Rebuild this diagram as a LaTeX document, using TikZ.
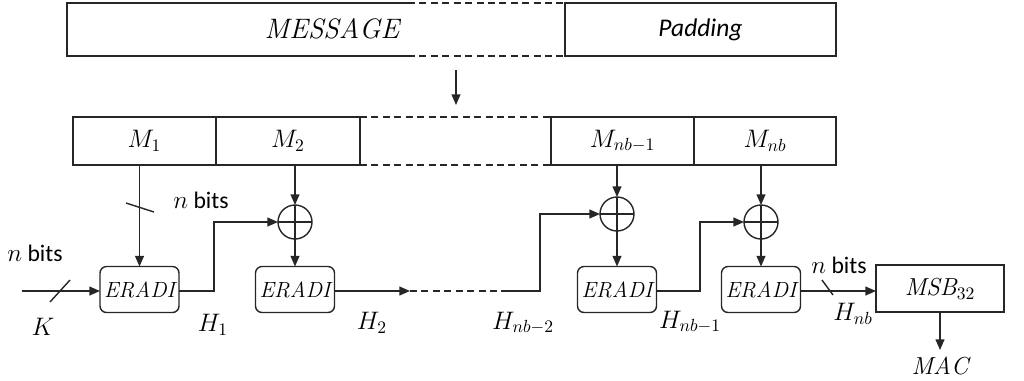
\documentclass[tikz,border=0pt]{standalone}
\usepackage{fontspec}
\newfontfamily\carlitofont{Carlito}
\usetikzlibrary{arrows.meta,calc}
\begin{document}
\begin{tikzpicture}[x=0.02cm,y=-0.02cm,
  every node/.style={inner sep=0pt, outer sep=0pt},
  line/.style={line width=0.8pt, draw=black!85},
  arr/.style={line, -{Triangle[length=6pt,width=5pt]}},
  cell/.style={line, draw, rectangle, minimum height=0.96cm, font=\fontsize{14}{16}\selectfont},
  eradi/.style={line, draw, rounded corners=0.13cm, minimum width=1.58cm, minimum height=0.92cm, font=\fontsize{12.5}{15}\selectfont},
  xor/.style={line, draw, circle, minimum size=0.68cm},
  lbl/.style={font=\fontsize{14}{16}\selectfont},
  bits/.style={font=\carlitofont\fontsize{13.5}{16}\selectfont}]
\useasboundingbox (0,0) rectangle (1024,380);
% top bar
\draw[line] (408,3) -- (67,3) -- (67,56) -- (408,56);
\draw[line, dashed, dash pattern=on 4pt off 2.5pt] (408,3) -- (565,3) (408,56) -- (565,56);
\node[cell, minimum width=5.42cm, minimum height=1.06cm] (pad) at (700.5,29.5) {\carlitofont\itshape\fontsize{14.5}{16}\selectfont Padding};
\node[lbl, font=\fontsize{16}{18}\selectfont] (msg) at (332,29) {$\mathit{MESSAGE}$};
\coordinate (a1) at (456,70);
\coordinate (a2) at (456,105);
\draw[arr] (a1) -- (a2);
% blocks row
\node[cell, minimum width=2.86cm] (m1) at (144.5,141) {$M_1$};
\node[cell, minimum width=2.88cm] (m2) at (288,141) {$M_2$};
\node[cell, minimum width=2.86cm] (m3) at (622.5,141) {$M_{nb-1}$};
\node[cell, minimum width=2.84cm] (m4) at (765,141) {$M_{nb}$};
\draw[line, dashed, dash pattern=on 4pt off 2.5pt] (m2.north east) -- (m3.north west) (m2.south east) -- (m3.south west);
% ERADI boxes
\node[eradi] (e1) at (139.5,289.5) {$\mathit{ERADI}$};
\node[eradi] (e2) at (295,289.5) {$\mathit{ERADI}$};
\node[eradi] (e3) at (617,289.5) {$\mathit{ERADI}$};
\node[eradi] (e4) at (761,289.5) {$\mathit{ERADI}$};
\node[cell, minimum width=2.56cm, minimum height=0.94cm] (msb) at (940,288.5) {$\mathit{MSB}_{32}$};
% XORs
\foreach \n/\x/\y in {x2/295/222, x3/617/214, x4/761/222}{
  \node[xor] (\n) at (\x,\y) {};
  \draw[line] (\n.north) -- (\n.south) (\n.west) -- (\n.east);
}
% M1 -> E1
\draw[arr] (e1.north |- m1.south) -- (e1.north);
\draw[line] (126,203) -- (154,212);
\node[bits] (nb1) at (201,200) {$n$ bits};
% K input
\coordinate (kin) at (22,291);
\draw[arr] (kin) -- (kin -| e1.west);
\draw[line] (50,302) -- (70,280);
\node[bits] (nb0) at (35,253) {$n$ bits};
\node[lbl] (k) at (43,327) {$K$};
% E1 -> X2
\draw[arr] (e1.east |- kin) -- (214,291) -- (214,222) -- (x2.west);
\node[lbl] (h1) at (213,325) {$H_1$};
\draw[arr] (x2.north |- m2.south) -- (x2.north);
\draw[arr] (x2.south) -- (e2.north);
% E2 -> dashed -> X3
\coordinate (d1) at (410,291);
\coordinate (d2) at (507,291);
\draw[arr] (e2.east |- d1) -- (d1);
\draw[line, dashed, dash pattern=on 4pt off 2.5pt] (d1) -- (d2);
\draw[arr] (d2) -- (540,291) -- (540,214) -- (x3.west);
\node[lbl] (h2) at (372,323) {$H_2$};
\node[lbl] (hnb2) at (523,323) {$H_{nb-2}$};
\draw[arr] (x3.north |- m3.south) -- (x3.north);
\draw[arr] (x3.south) -- (e3.north);
% E3 -> X4
\draw[arr] (e3.east |- d1) -- (700,291) -- (700,222) -- (x4.west);
\node[lbl] (hnb1) at (690,322) {$H_{nb-1}$};
\draw[arr] (x4.north |- m4.south) -- (x4.north);
\draw[arr] (x4.south) -- (e4.north);
% E4 -> MSB
\draw[arr] (e4.east |- d1) -- (d1 -| msb.west);
\draw[line] (822,280) -- (833,295);
\node[bits] (nb4) at (839,265) {$n$ bits};
\node[lbl] (hnb) at (853,314) {$H_{nb}$};
% MSB -> MAC
\coordinate (macpt) at (940,350);
\draw[arr] (msb.south) -- (macpt);
\node[lbl] (mac) at (940,366) {$\mathit{MAC}$};
\end{tikzpicture}
\end{document}
